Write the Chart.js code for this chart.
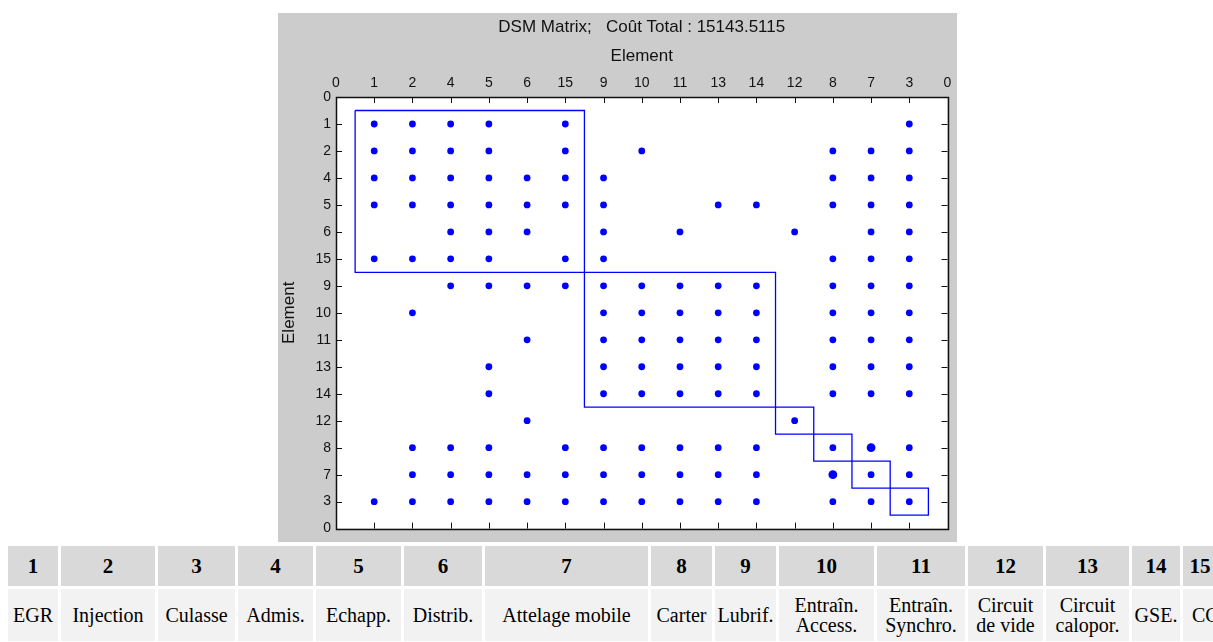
<!DOCTYPE html>
<html>
<head>
<meta charset="utf-8">
<script src="https://cdn.jsdelivr.net/npm/chart.js@4/dist/chart.umd.min.js"></script>
<style>
html, body { margin: 0; padding: 0; background: #fff; overflow: hidden; width: 1213px; height: 642px; }
#fig { position: absolute; left: 278px; top: 13px; width: 679px; height: 529px; background: #cccccc; }
#parts { position: absolute; left: 5px; top: 543px; width: 1215px; table-layout: fixed;
  border-collapse: separate; border-spacing: 3px; font-family: "Liberation Serif", "Times New Roman", serif; color: #000; }
#parts th { background: #d9d9d9; height: 40px; padding: 0; font-size: 21px; font-weight: bold; text-align: center; }
#parts td { background: #f2f2f2; height: 52px; padding: 0; font-size: 20px; line-height: 20px; text-align: center; white-space: nowrap; }
#parts td.last { text-align: left; padding-left: 9px; }
</style>
</head>
<body>
<div id="fig"><canvas id="dsm" width="679" height="529"></canvas></div>
<table id="parts"><colgroup id="cols"></colgroup><tr id="ids"></tr><tr id="names"></tr></table>
<script>
// ordre des éléments après clustering (axes X et Y)
const order = [1, 2, 4, 5, 6, 15, 9, 10, 11, 13, 14, 12, 8, 7, 3];
const tickNames = ['0'].concat(order.map(String), ['0']);

// pour chaque ligne (position 1..15), colonnes (positions) où il y a une dépendance
const rowDots = [
  [1, 2, 3, 4, 6, 15],
  [1, 2, 3, 4, 6, 8, 13, 14, 15],
  [1, 2, 3, 4, 5, 6, 7, 13, 14, 15],
  [1, 2, 3, 4, 5, 6, 7, 10, 11, 13, 14, 15],
  [3, 4, 5, 7, 9, 12, 14, 15],
  [1, 2, 3, 4, 6, 7, 13, 14, 15],
  [3, 4, 5, 6, 7, 8, 9, 10, 11, 13, 14, 15],
  [2, 7, 8, 9, 10, 11, 13, 14, 15],
  [5, 7, 8, 9, 10, 11, 13, 14, 15],
  [4, 7, 8, 9, 10, 11, 13, 14, 15],
  [4, 7, 8, 9, 10, 11, 13, 14, 15],
  [5, 12],
  [2, 3, 4, 6, 7, 8, 9, 10, 11, 13, 14, 15],
  [2, 3, 4, 5, 6, 7, 8, 9, 10, 11, 13, 14, 15],
  [1, 2, 3, 4, 5, 6, 7, 8, 9, 10, 11, 13, 14, 15]
];
// points doublés (plus gros) : [ligne, colonne]
const heavyDots = [[13, 14], [14, 13]];
// clusters : [première position, dernière position]
const clusters = [[1, 6], [7, 11], [12, 12], [13, 13], [14, 14], [15, 15]];

// tableau des éléments
const partIds = [1, 2, 3, 4, 5, 6, 7, 8, 9, 10, 11, 12, 13, 14, 15];
const partNames = ['EGR', 'Injection', 'Culasse', 'Admis.', 'Echapp.', 'Distrib.', 'Attelage mobile',
  'Carter', 'Lubrif.', 'Entraîn.<br>Access.', 'Entraîn.<br>Synchro.', 'Circuit<br>de vide',
  'Circuit<br>calopor.', 'GSE.', 'CC'];
const colWidths = [50, 94, 77, 75, 85, 78, 163, 61, 61, 95, 88, 75, 83, 48, 34];

const cols = document.getElementById('cols');
const ids = document.getElementById('ids');
const names = document.getElementById('names');
partIds.forEach(function(id, i) {
  const col = document.createElement('col');
  col.style.width = colWidths[i] + 'px';
  cols.appendChild(col);
  const th = document.createElement('th');
  th.textContent = id;
  ids.appendChild(th);
  const td = document.createElement('td');
  td.innerHTML = partNames[i];
  if (i === partIds.length - 1) td.className = 'last';
  names.appendChild(td);
});

const dotPoints = [];
rowDots.forEach(function(cs, r) {
  cs.forEach(function(c) { dotPoints.push({ x: c, y: r + 1 }); });
});

const clusterSets = clusters.map(function(cl) {
  const a = cl[0] - 0.5, b = cl[1] + 0.5;
  return {
    data: [{ x: a, y: a }, { x: b, y: a }, { x: b, y: b }, { x: a, y: b }, { x: a, y: a }],
    showLine: true,
    borderColor: '#0000ff',
    borderWidth: 1.3,
    pointRadius: 0,
    fill: false
  };
});

const blue = '#0000ff';
const sans = '"Liberation Sans", Arial, sans-serif';
const tickFont = { family: sans, size: 14 };
const labelFont = { family: sans, size: 17 };

// fond blanc de la zone de tracé, cadre et graduations vers l'intérieur (style MATLAB)
const frame = {
  id: 'frame',
  beforeDatasetsDraw(chart) {
    const a = chart.chartArea, c = chart.ctx;
    c.save();
    c.fillStyle = '#ffffff';
    c.fillRect(a.left, a.top, a.right - a.left, a.bottom - a.top);
    c.restore();
  },
  afterDraw(chart) {
    const a = chart.chartArea, c = chart.ctx;
    const x = chart.scales.x, y = chart.scales.y;
    const len = 6;
    c.save();
    c.strokeStyle = '#111';
    c.lineWidth = 1;
    c.beginPath();
    for (let i = 1; i < tickNames.length - 1; i++) {
      const px = Math.round(x.getPixelForValue(i)) + 0.5;
      c.moveTo(px, a.top); c.lineTo(px, a.top + len);
      c.moveTo(px, a.bottom); c.lineTo(px, a.bottom - len);
      const py = Math.round(y.getPixelForValue(i)) + 0.5;
      c.moveTo(a.left, py); c.lineTo(a.left + len, py);
      c.moveTo(a.right, py); c.lineTo(a.right - len, py);
    }
    c.stroke();
    c.lineWidth = 1.5;
    c.strokeRect(Math.round(a.left) + 0.5, Math.round(a.top) + 0.5,
      Math.round(a.right - a.left), Math.round(a.bottom - a.top));
    c.restore();
  }
};

new Chart(document.getElementById('dsm'), {
  type: 'scatter',
  data: {
    datasets: [{
      data: dotPoints,
      backgroundColor: blue,
      borderWidth: 0,
      pointRadius: 3.4
    }, {
      data: heavyDots.map(function(p) { return { x: p[1], y: p[0] }; }),
      backgroundColor: blue,
      borderWidth: 0,
      pointRadius: 4.4
    }].concat(clusterSets)
  },
  options: {
    responsive: false,
    animation: false,
    events: [],
    layout: { padding: { top: 0, left: 0, right: 6, bottom: 10 } },
    plugins: {
      legend: { display: false },
      tooltip: { enabled: false },
      title: {
        display: true,
        fullSize: false,
        text: 'DSM Matrix;   Coût Total : 15143.5115',
        color: '#111',
        font: { family: sans, size: 17, weight: 'normal' },
        padding: { top: 4, bottom: 0 }
      }
    },
    scales: {
      x: {
        type: 'linear',
        position: 'top',
        min: 0,
        max: 16,
        grid: { display: false, drawTicks: false },
        border: { display: false },
        ticks: {
          stepSize: 1,
          autoSkip: false,
          maxRotation: 0,
          padding: 5.6,
          color: '#111',
          font: tickFont,
          callback: function(v) { return tickNames[v]; }
        },
        title: { display: true, text: 'Element', color: '#111', font: labelFont, padding: { top: 8.4, bottom: 0 } },
        afterFit: function(s) { s.height = 59.6; }
      },
      y: {
        type: 'linear',
        position: 'left',
        reverse: true,
        min: 0,
        max: 16,
        grid: { display: false, drawTicks: false },
        border: { display: false },
        ticks: {
          stepSize: 1,
          autoSkip: false,
          padding: 5,
          color: '#111',
          font: tickFont,
          callback: function(v) { return tickNames[v]; }
        },
        title: { display: true, text: 'Element', color: '#111', font: labelFont, padding: { top: 1, bottom: 0 } },
        afterFit: function(s) { s.width = 58; }
      }
    }
  },
  plugins: [frame]
});
</script>
</body>
</html>
